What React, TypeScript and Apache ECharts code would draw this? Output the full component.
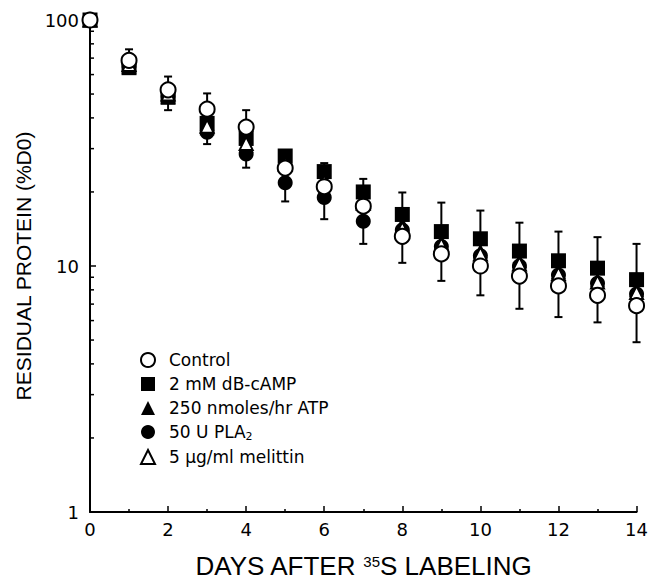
import React, { useEffect, useRef } from "react";
import * as echarts from "echarts";

const days = [0, 1, 2, 3, 4, 5, 6, 7, 8, 9, 10, 11, 12, 13, 14];
const controlVals = [100, 68.5, 52, 43.4, 36.7, 25, 21, 17.5, 13.2, 11.2, 10, 9.1, 8.3, 7.6, 6.9];
const campVals = [100, 64, 48.5, 38, 33, 28, 24.2, 20, 16.2, 13.8, 12.9, 11.5, 10.5, 9.8, 8.8];
const atpVals = [100, 65, 49, 36.5, 31, 26, 22.5, 18.5, 14.8, 12.5, 11.5, 10.5, 9.5, 8.8, 8.0];
const plaVals = [100, 65, 49, 35, 28.5, 21.8, 19, 15.2, 14, 12, 11, 10, 9.2, 8.5, 7.7];
const melVals = [100, 66, 50, 37, 31.5, 26, 22, 18, 14.2, 12.2, 11.2, 10.2, 9.3, 8.6, 7.8];
const errLow = [null, 60.5, 43, 31.3, 25.1, 18.3, 15.5, 12.3, 10.3, 8.7, 7.6, 6.7, 6.2, 5.9, 4.9];
const errHigh = [null, 76, 58.9, 50.3, 43, 29.4, 26.2, 22.6, 19.9, 18.1, 16.8, 15.0, 13.8, 13.1, 12.3];
const yMinorTicks = [2, 3, 4, 5, 6, 7, 8, 9, 20, 30, 40, 50, 60, 70, 80, 90];
const names = ["Control", "2 mM dB-cAMP", "250 nmoles/hr ATP", "50 U PLA2", "5 µg/ml melittin"];

const ARIAL = "Liberation Sans, Arial, Helvetica, sans-serif";
const WIDE = "DejaVu Sans, Verdana, sans-serif";

export default function App() {
  const ref = useRef<HTMLDivElement>(null);
  useEffect(() => {
    if (!ref.current) return;
    const chart = echarts.init(ref.current, undefined, { renderer: "svg" });
    const mk = (vals: number[]) => days.map((d, i) => [d, vals[i]]);
    const errData = days
      .map((d, i) => [d, errLow[i], errHigh[i]])
      .filter((r) => r[1] != null);
    const scatterBase = {
      type: "scatter",
      symbolSize: 15,
      clip: false,
    };
    chart.setOption({
      animation: false,
      backgroundColor: "#fff",
      textStyle: { fontFamily: WIDE },
      grid: { left: 90, right: 10, top: 20, bottom: 68 },
      legend: {
        orient: "vertical",
        left: 140,
        top: 351,
        itemWidth: 14,
        itemHeight: 14,
        itemGap: 6,
        padding: 0,
        data: [names[0], names[1], names[2], names[3], names[4]],
        textStyle: {
          fontSize: 17,
          lineHeight: 18,
          color: "#000",
          fontFamily: WIDE,
          padding: [0, 0, 0, 9],
          rich: {
            sub: { fontSize: 11, padding: [9, 0, 0, 0], color: "#000", fontFamily: WIDE },
          },
        },
        formatter: (n: string) => (n === names[3] ? "50 U PLA{sub|2}" : n),
      },
      xAxis: {
        type: "value",
        min: 0,
        max: 14,
        interval: 2,
        name: "DAYS AFTER {sup|35}S LABELING",
        nameLocation: "middle",
        nameGap: 41,
        nameTextStyle: {
          fontSize: 26,
          color: "#000",
          fontFamily: ARIAL,
          rich: {
            sup: { fontSize: 15, padding: [0, 0, 9, 0], color: "#000", fontFamily: ARIAL },
          },
        },
        axisLine: { show: true, lineStyle: { color: "#000", width: 2 } },
        axisTick: { show: true, inside: true, length: 6, lineStyle: { color: "#000", width: 1.5 } },
        minorTick: { show: true, splitNumber: 2, length: 3, lineStyle: { color: "#000", width: 1.5 } },
        axisLabel: { fontSize: 18, color: "#000", margin: 8, fontFamily: WIDE },
        splitLine: { show: false },
      },
      yAxis: {
        type: "log",
        logBase: 10,
        min: 1,
        max: 100,
        name: "RESIDUAL PROTEIN (%D0)",
        nameLocation: "middle",
        nameGap: 50,
        nameTextStyle: { fontSize: 21, color: "#000", fontFamily: ARIAL },
        axisLine: { show: true, lineStyle: { color: "#000", width: 2 } },
        axisTick: { show: true, inside: true, length: 6, lineStyle: { color: "#000", width: 1.5 } },
        axisLabel: { fontSize: 18, color: "#000", margin: 11, fontFamily: WIDE },
        splitLine: { show: false },
      },
      series: [
        {
          type: "custom",
          name: "minorTicks",
          silent: true,
          z: 3,
          data: yMinorTicks.map((v) => [0, v]),
          renderItem: (_p: any, api: any) => {
            const p = api.coord([api.value(0), api.value(1)]);
            return {
              type: "line",
              shape: { x1: p[0], y1: p[1], x2: p[0] + 4, y2: p[1] },
              style: { stroke: "#000", lineWidth: 1.5 },
            };
          },
        },
        {
          type: "custom",
          name: "err",
          silent: true,
          z: 1,
          data: errData,
          renderItem: (_p: any, api: any) => {
            const lo = api.coord([api.value(0), api.value(1)]);
            const hi = api.coord([api.value(0), api.value(2)]);
            const w = 4;
            const st = { stroke: "#000", lineWidth: 2 };
            return {
              type: "group",
              children: [
                { type: "line", shape: { x1: lo[0], y1: lo[1], x2: hi[0], y2: hi[1] }, style: st },
                { type: "line", shape: { x1: lo[0] - w, y1: lo[1], x2: lo[0] + w, y2: lo[1] }, style: st },
                { type: "line", shape: { x1: hi[0] - w, y1: hi[1], x2: hi[0] + w, y2: hi[1] }, style: st },
              ],
            };
          },
        },
        {
          ...scatterBase,
          name: names[1],
          symbol: "rect",
          z: 2,
          data: mk(campVals),
          itemStyle: { color: "#000", borderColor: "#000", borderWidth: 0, opacity: 1 },
        },
        {
          ...scatterBase,
          name: names[3],
          symbol: "circle",
          z: 3,
          data: mk(plaVals),
          itemStyle: { color: "#000", borderColor: "#000", borderWidth: 0, opacity: 1 },
        },
        {
          ...scatterBase,
          name: names[2],
          symbol: "triangle",
          z: 4,
          data: mk(atpVals),
          itemStyle: { color: "#000", borderColor: "#000", borderWidth: 0, opacity: 1 },
        },
        {
          ...scatterBase,
          name: names[4],
          symbol: "triangle",
          symbolSize: 13,
          z: 5,
          data: mk(melVals),
          itemStyle: { color: "#fff", borderColor: "#000", borderWidth: 2, opacity: 1 },
        },
        {
          ...scatterBase,
          name: names[0],
          symbol: "circle",
          z: 6,
          data: mk(controlVals),
          itemStyle: { color: "#fff", borderColor: "#000", borderWidth: 2, opacity: 1 },
        },
      ],
    });
    return () => chart.dispose();
  }, []);
  return (
    <div
      ref={ref}
      style={{ position: "fixed", left: 0, top: 0, width: 651, height: 584, background: "#fff" }}
    />
  );
}
